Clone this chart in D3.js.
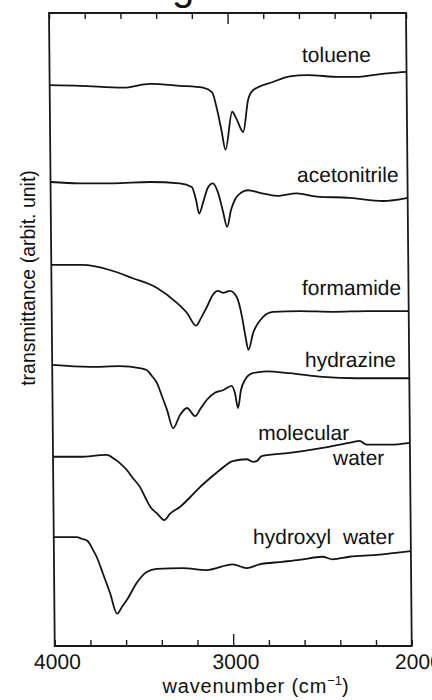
<!DOCTYPE html>
<html>
<head>
<meta charset="utf-8">
<script src="https://cdn.jsdelivr.net/npm/d3@7"></script>
<style>
  html, body { margin: 0; padding: 0; background: #fff; }
  svg { display: block; }
  text { font-family: "Liberation Sans", Arial, sans-serif; fill: #111; }
</style>
</head>
<body>
<svg id="chart" width="432" height="700"></svg>
<script>
// IR spectra, each point is [wavenumber (cm^-1), transmittance (arbitrary units)]
const toluene = [
  [4000, 88.6], [3830, 88.5], [3589, 88.2], [3438, 88.8], [3270, 88.5], [3141, 88.2],
  [3091, 87.5], [3063, 84.7], [3040, 81.5], [3018, 78.4], [2979, 84.4], [2957, 83.4],
  [2918, 81.2], [2889, 86.3], [2861, 87.8], [2749, 89.1], [2654, 90.0], [2558, 90.2],
  [2374, 89.9], [2278, 89.9], [2189, 90.2], [2093, 90.5], [2000, 90.7]
];
const acetonitrile = [
  [4000, 73.3], [3836, 73.1], [3651, 73.1], [3444, 73.3], [3276, 73.1], [3209, 72.5],
  [3186, 70.5], [3169, 68.3], [3147, 70.0], [3119, 72.4], [3091, 73.1], [3063, 71.7],
  [3035, 68.6], [3013, 66.2], [2990, 68.9], [2968, 70.5], [2934, 71.6], [2895, 72.0],
  [2828, 71.6], [2733, 71.1], [2621, 71.5], [2509, 71.0], [2324, 70.8], [2139, 70.3],
  [2000, 70.8]
];
const formamide = [
  [4000, 60.2], [3897, 60.2], [3825, 60.2], [3673, 59.4], [3545, 58.1], [3411, 56.6],
  [3298, 54.2], [3242, 52.6], [3192, 50.6], [3164, 51.8], [3130, 53.6], [3096, 55.5],
  [3068, 56.1], [3040, 55.8], [3001, 56.1], [2962, 55.1], [2934, 52.0], [2917, 49.1],
  [2900, 46.8], [2872, 49.5], [2816, 52.0], [2760, 52.8], [2609, 52.9], [2424, 52.8],
  [2233, 52.9], [2000, 52.9]
];
const hydrazine = [
  [4000, 44.4], [3790, 44.1], [3622, 44.2], [3510, 43.9], [3471, 43.6], [3443, 42.7],
  [3415, 41.6], [3387, 39.5], [3359, 37.3], [3326, 34.4], [3286, 36.5], [3247, 37.6],
  [3202, 36.3], [3169, 37.6], [3135, 38.9], [3090, 40.0], [3045, 40.4], [2995, 41.1],
  [2978, 40.0], [2961, 37.6], [2944, 40.4], [2922, 42.0], [2877, 43.1], [2799, 43.4],
  [2670, 43.1], [2485, 42.5], [2295, 42.3], [2000, 42.3]
];
const molecularWater = [
  [4000, 29.9], [3850, 29.9], [3699, 30.2], [3654, 29.5], [3626, 28.9], [3587, 27.8],
  [3553, 26.5], [3514, 25.1], [3486, 23.5], [3458, 22.0], [3419, 20.9], [3380, 19.9],
  [3347, 20.9], [3290, 22.0], [3234, 23.5], [3178, 25.1], [3122, 26.5], [3066, 27.8],
  [2994, 29.2], [2915, 29.5], [2881, 29.1], [2859, 29.2], [2831, 30.0], [2674, 30.5],
  [2489, 31.3], [2321, 32.2], [2282, 32.4], [2243, 31.8], [2114, 31.8], [2000, 32.1]
];
const hydroxylWater = [
  [4000, 17.2], [3873, 17.2], [3839, 16.9], [3811, 16.6], [3783, 15.3], [3761, 14.1],
  [3727, 11.5], [3688, 8.4], [3649, 5.1], [3621, 6.2], [3593, 7.3], [3537, 10.0],
  [3481, 11.7], [3425, 12.2], [3279, 12.3], [3145, 12.0], [2999, 12.9], [2921, 12.3],
  [2849, 12.9], [2720, 13.3], [2625, 13.6], [2496, 14.1], [2440, 13.7], [2345, 14.1],
  [2194, 14.4], [2000, 15.0]
];

const seriesList = [toluene, acetonitrile, formamide, hydrazine, molecularWater, hydroxylWater];

// Curve labels: text with the [wavenumber, transmittance] where the text starts
const labelTexts = ["toluene", "acetonitrile", "formamide", "hydrazine", "molecular", "water", "hydroxyl\u00a0\u00a0water"];
const labelAnchors = [[2585, 92.3], [2619, 73.3], [2597, 55.4], [2584, 44.1], [2850, 32.5], [2432, 28.6], [2884, 16.1]];

const xTickValues = [4000, 3800, 3600, 3400, 3200, 3000, 2800, 2600, 2400, 2200, 2000];
const xTickLabels = [4000, 3000, 2000];
const xMajorTick = 3000;

// Layout
const margin = { left: 49, top: 13 };
const plotW = 357, plotH = 633;
const skew = 0.52; // degrees, slight lean of the whole plot frame

const svg = d3.select("#chart");

const x = d3.scaleLinear().domain([4000, 2000]).range([0, plotW]);
const y = d3.scaleLinear().domain([0, 100]).range([plotH, 0]);

const plot = svg.append("g")
  .attr("transform", `translate(${margin.left},${margin.top}) skewX(${skew})`);

// Frame
plot.append("rect")
  .attr("x", 0).attr("y", 0)
  .attr("width", plotW).attr("height", plotH)
  .attr("fill", "none")
  .attr("stroke", "#1a1a1a")
  .attr("stroke-width", 1.8);

// Bottom axis with inward ticks
const bottomAxis = plot.append("g")
  .attr("transform", `translate(0,${plotH})`)
  .call(d3.axisBottom(x)
    .tickValues(xTickValues)
    .tickSize(-6)
    .tickPadding(8)
    .tickFormat(d => xTickLabels.includes(d) ? d3.format("d")(d) : ""));
bottomAxis.select(".domain").remove();
bottomAxis.selectAll(".tick line")
  .attr("stroke", "#1a1a1a").attr("stroke-width", 1.4)
  .attr("y2", d => d === xMajorTick ? -12 : -6);
bottomAxis.selectAll(".tick text")
  .attr("font-size", 21)
  .attr("dx", d => d === 2000 ? 6 : 2)
  .style("font-family", "\"Liberation Sans\", Arial, sans-serif")
  .attr("fill", "#111");

// Top axis with inward ticks
const topAxis = plot.append("g")
  .call(d3.axisTop(x)
    .tickValues(xTickValues)
    .tickSize(-6)
    .tickFormat(""));
topAxis.select(".domain").remove();
topAxis.selectAll(".tick line")
  .attr("stroke", "#1a1a1a").attr("stroke-width", 1.4)
  .attr("y2", d => d === xMajorTick ? 11 : 6);

// Spectra
const line = d3.line()
  .x(d => x(d[0]))
  .y(d => y(d[1]))
  .curve(d3.curveMonotoneX);

plot.selectAll("path.spectrum")
  .data(seriesList)
  .join("path")
  .attr("class", "spectrum")
  .attr("d", line)
  .attr("fill", "none")
  .attr("stroke", "#141414")
  .attr("stroke-width", 1.8)
  .attr("stroke-linejoin", "round");

// Curve labels
plot.selectAll("text.curve-label")
  .data(labelTexts)
  .join("text")
  .attr("class", "curve-label")
  .attr("x", (d, i) => x(labelAnchors[i][0]))
  .attr("y", (d, i) => y(labelAnchors[i][1]))
  .attr("font-size", 21)
  .text(d => d);

// Axis titles
const xTitle = svg.append("text")
  .attr("x", 256).attr("y", 693)
  .attr("text-anchor", "middle")
  .attr("font-size", 20)
  .attr("letter-spacing", 0.8);
xTitle.append("tspan").text("wavenumber (cm");
xTitle.append("tspan").attr("dy", -8).attr("font-size", 13).attr("letter-spacing", 0).text("\u22121");
xTitle.append("tspan").attr("dy", 8).text(")");

svg.append("text")
  .attr("transform", "translate(35,278) rotate(-90)")
  .attr("text-anchor", "middle")
  .attr("font-size", 19.5)
  .text("transmittance (arbit. unit)");

// Heading glyph running in from above the plot
svg.append("text")
  .attr("x", 172).attr("y", 0)
  .attr("font-size", 40)
  .style("font-family", "\"Liberation Sans\", Arial, sans-serif")
  .text("g");
</script>
</body>
</html>
